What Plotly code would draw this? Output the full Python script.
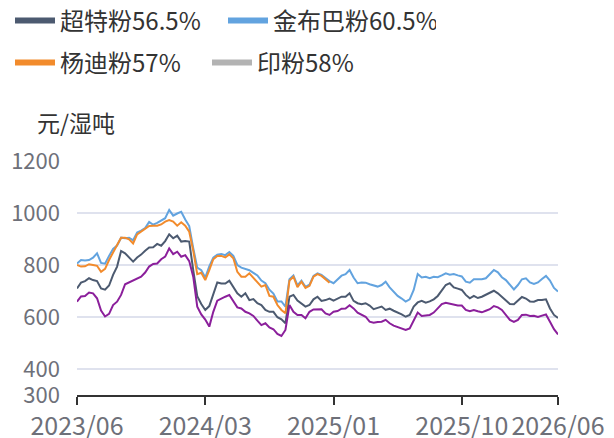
import plotly.graph_objects as go

# ---------------- data ----------------
tick_labels = ["2023/06", "2024/03", "2025/01", "2025/10", "2026/06"]
tick_index = [0, 32, 64, 96, 120]

names = ["超特粉56.5%", "金布巴粉60.5%", "杨迪粉57%", "印粉58%"]

chaote = [710, 732, 738, 749, 742, 738, 710, 705, 721, 762, 794, 854, 845, 829, 813, 829, 840, 855, 867, 868,
          881, 874, 892, 918, 903, 913, 890, 892, 890, 780, 680, 650, 627, 642, 691, 733, 729, 729, 740, 717,
          691, 678, 691, 665, 669, 653, 646, 627, 620, 620, 599, 591, 576, 678, 685, 663, 650, 640, 646, 668,
          678, 662, 665, 671, 663, 672, 678, 678, 691, 662, 653, 649, 653, 644, 630, 635, 640, 627, 632, 624,
          618, 610, 601, 608, 640, 656, 662, 655, 660, 668, 681, 701, 723, 730, 714, 709, 704, 685, 672, 681,
          673, 678, 685, 694, 701, 691, 678, 665, 650, 649, 665, 677, 671, 660, 659, 665, 665, 668, 633, 608,
          596]

jinbuba = [806, 819, 817, 819, 828, 845, 808, 805, 835, 862, 875, 905, 903, 905, 895, 925, 932, 942, 966, 955,
           962, 972, 980, 1012, 990, 998, 1005, 975, 950, 865, 790, 780, 752, 795, 828, 840, 842, 838, 850, 835,
           800, 790, 785, 780, 770, 760, 740, 730, 705, 690, 660, 660, 640, 745, 760, 722, 740, 716, 724, 758,
           768, 762, 750, 738, 730, 746, 759, 765, 781, 752, 730, 733, 732, 726, 722, 717, 723, 736, 714, 697,
           681, 671, 659, 668, 704, 765, 752, 755, 749, 755, 753, 760, 768, 763, 765, 760, 756, 736, 732, 745,
           744, 745, 749, 764, 781, 772, 753, 742, 722, 706, 723, 745, 749, 733, 727, 733, 746, 758, 740, 712,
           698]

yangdi = [800, 794, 795, 803, 800, 797, 774, 785, 819, 851, 877, 905, 905, 899, 883, 918, 928, 937, 950, 951,
          951, 956, 967, 973, 967, 951, 964, 951, 928, 855, 765, 770, 742, 780, 822, 835, 835, 829, 841, 826,
          774, 755, 755, 768, 751, 732, 717, 723, 681, 678, 646, 627, 614, 740, 755, 715, 736, 712, 720, 755,
          765, 758, 745, 732]

yinfen = [659, 679, 681, 694, 691, 672, 625, 602, 612, 646, 659, 685, 726, 733, 738, 747, 755, 771, 794, 804,
          806, 822, 832, 864, 842, 851, 832, 838, 815, 755, 640, 610, 590, 563, 620, 663, 672, 678, 685, 659,
          637, 633, 620, 614, 604, 586, 569, 576, 560, 553, 535, 527, 550, 646, 620, 608, 608, 595, 620, 629,
          630, 630, 614, 608, 620, 623, 632, 633, 645, 633, 617, 609, 601, 582, 578, 581, 582, 589, 576, 567,
          562, 558, 550, 556, 589, 617, 604, 607, 608, 617, 633, 650, 655, 651, 646, 644, 644, 627, 622, 627,
          622, 618, 624, 630, 642, 637, 627, 608, 589, 581, 589, 608, 609, 604, 605, 600, 606, 610, 582, 553,
          533]

y_ticks = [300, 400, 600, 800, 1000, 1200]

# ---------------- styles ----------------
FONT = "Noto Sans CJK SC"
line_colors = ["#4c5a70", "#62a3df", "#f28b2c", "#8b1f9b"]
legend_colors = ["#4c5a70", "#62a3df", "#f28b2c", "#b3b3b3"]

# the page body adds an 8px margin, so the figure is sized to fit the window
W, H = 606, 430

series = [chaote, jinbuba, yangdi, yinfen]
n = len(chaote)
xs = list(range(n))

fig = go.Figure()
for i, (nm, ys) in enumerate(zip(names, series)):
    fig.add_trace(go.Scatter(
        x=xs[:len(ys)], y=ys, mode="lines", name=nm, legendgroup=nm,
        line=dict(color=line_colors[i], width=2), showlegend=False,
        hovertemplate="%{y}<extra>" + nm + "</extra>"))

# legend entries (two rows)
for i, nm in enumerate(names):
    fig.add_trace(go.Scatter(
        x=[None], y=[None], mode="lines", name=nm, legendgroup=nm,
        line=dict(color=legend_colors[i], width=6),
        legend="legend" if i < 2 else "legend2"))

legend_common = dict(
    orientation="h", xref="container", yref="container", xanchor="left", yanchor="middle",
    font=dict(family=FONT, size=24, color="#333333"), bgcolor="rgba(0,0,0,0)",
    itemwidth=40, traceorder="normal", entrywidthmode="pixels")

fig.update_layout(
    width=W, height=H,
    margin=dict(l=69, r=56, t=153, b=43, autoexpand=False),
    paper_bgcolor="white", plot_bgcolor="white",
    font=dict(family=FONT),
    legend=dict(x=2 / W, y=1 - 13 / H, entrywidth=158, **legend_common),
    legend2=dict(x=2 / W, y=1 - 55 / H, entrywidth=142, **legend_common),
    xaxis=dict(
        range=[0, n - 1], tickmode="array", tickvals=tick_index, ticktext=tick_labels,
        showgrid=False, zeroline=False, showline=True, linecolor="#333333", linewidth=2,
        ticks="outside", ticklen=8, tickwidth=2, tickcolor="#333333", automargin=False,
        tickfont=dict(family=FONT, size=25, color="#6e7079"),
        ticklabeloverflow="allow"),
    yaxis=dict(
        range=[300, 1200], tickmode="array", tickvals=y_ticks, automargin=False,
        showgrid=True, gridcolor="#dfe2ee", gridwidth=2, zeroline=False, showline=False,
        ticks="", ticklabelstandoff=16,
        tickfont=dict(family=FONT, size=22, color="#6e7079")),
    annotations=[dict(
        text="元/湿吨", xref="paper", yref="paper", x=(35 - 77) / 481, y=(395 - 122) / 234,
        xanchor="left", yanchor="middle", showarrow=False,
        font=dict(family=FONT, size=23, color="#333333"))],
)

fig.write_html("out.html")
